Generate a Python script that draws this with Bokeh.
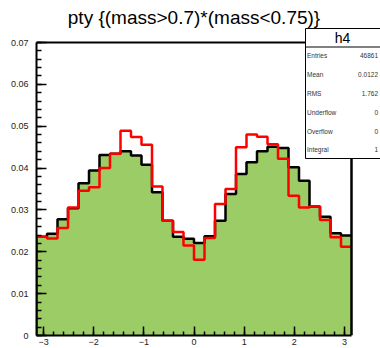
import numpy as np
from bokeh.plotting import figure
from bokeh.models import Range1d, FixedTicker, Label
from bokeh.embed import file_html
from bokeh.resources import INLINE

# ---- data ----
title_text = "pty {(mass>0.7)*(mass<0.75)}"
hist_name = "h4"
n_bins = 30
black_vals = [0.0236, 0.0243, 0.0278, 0.0304, 0.0364, 0.0394, 0.0431, 0.0434, 0.0440, 0.0430,
              0.0408, 0.0342, 0.0274, 0.0236, 0.0231, 0.0221, 0.0237, 0.0274, 0.0338, 0.0386,
              0.0414, 0.0440, 0.0451, 0.0448, 0.0402, 0.0370, 0.0308, 0.0284, 0.0244, 0.0239]
red_vals = [0.0236, 0.0232, 0.0257, 0.0306, 0.0346, 0.0354, 0.0400, 0.0434, 0.0489, 0.0474,
            0.0456, 0.0356, 0.0274, 0.0247, 0.0215, 0.0181, 0.0233, 0.0314, 0.0350, 0.0450,
            0.0480, 0.0475, 0.0457, 0.0422, 0.0334, 0.0306, 0.0308, 0.0276, 0.0235, 0.0212]
stat_names = ["Entries", "Mean", "RMS", "Underflow", "Overflow", "Integral"]
stat_values = ["46861", "0.0122", "1.762", "0", "0", "1"]
x_tick_vals = [-3, -2, -1, 0, 1, 2, 3]
x_tick_labels = ["-3", "-2", "-1", "0", "1", "2", "3"]
y_tick_vals = [0, 0.01, 0.02, 0.03, 0.04, 0.05, 0.06, 0.07]
y_tick_labels = ["0", "0.01", "0.02", "0.03", "0.04", "0.05", "0.06", "0.07"]

XMIN, XMAX = -np.pi, np.pi
YMIN, YMAX = 0.0, 0.07
edges = np.linspace(XMIN, XMAX, n_bins + 1)

# pixel geometry of the ROOT frame inside the 380x348 canvas
W, H = 380, 348
F_LEFT, F_RIGHT, F_TOP, F_BOTTOM = 36, 351, 42, 335
XS = (F_RIGHT - F_LEFT) / (XMAX - XMIN)   # px per x unit
YS = (F_BOTTOM - F_TOP) / (YMAX - YMIN)   # px per y unit


def X(px):
    return XMIN + (px - F_LEFT) / XS


def Y(py):
    return (F_BOTTOM - py) / YS


def step_path(vals, close_right):
    xs = [edges[0]]
    ys = [0.0]
    for i, v in enumerate(vals):
        xs += [edges[i], edges[i + 1]]
        ys += [v, v]
    if close_right:
        xs.append(edges[-1])
        ys.append(0.0)
    return xs, ys


FONT = "Liberation Sans"

# the bokeh frame spans to the canvas top/right so the title and stats box are not clipped
p = figure(width=W, height=H, output_backend="svg", toolbar_location=None, title=None,
           x_range=Range1d(XMIN, X(W)), y_range=Range1d(YMIN, Y(0)),
           min_border_left=F_LEFT, min_border_right=0, min_border_top=0,
           min_border_bottom=H - F_BOTTOM)
p.xgrid.visible = False
p.ygrid.visible = False
p.background_fill_color = "white"
p.border_fill_color = "white"
p.outline_line_color = None

fx, fy = step_path(black_vals, True)
bx, by = step_path(black_vals, False)
rx, ry = step_path(red_vals, False)
p.patch(fx, fy, fill_color="#9bcc66", line_color=None)
p.line(bx, by, line_color="black", line_width=2.5)
p.line(rx, ry, line_color="red", line_width=2.5)

# axes
p.xaxis.ticker = FixedTicker(ticks=x_tick_vals, minor_ticks=list(np.round(np.arange(-3.0, 3.01, 0.2), 3)))
p.xaxis.major_label_overrides = {str(t): l for t, l in zip(x_tick_vals, x_tick_labels)}
p.yaxis.ticker = FixedTicker(ticks=y_tick_vals, minor_ticks=list(np.round(np.arange(0, 0.0701, 0.002), 4)))
p.yaxis.major_label_overrides = {str(t): l for t, l in zip(y_tick_vals, y_tick_labels)}
p.xaxis.bounds = (XMIN, XMAX)
p.yaxis.bounds = (YMIN, YMAX)
for ax in (p.xaxis[0], p.yaxis[0]):
    ax.axis_line_color = "black"
    ax.axis_line_width = 2
    ax.major_tick_out = 0
    ax.minor_tick_out = 0
    ax.major_tick_line_width = 1.5
    ax.minor_tick_line_width = 1.5
    ax.major_label_text_font = FONT
    ax.major_label_text_font_size = "9px"
    ax.major_label_text_color = "#222222"
p.xaxis.major_tick_in = 9
p.xaxis.minor_tick_in = 4
p.xaxis.major_label_standoff = 3
p.yaxis.major_tick_in = 10
p.yaxis.minor_tick_in = 5
p.yaxis.major_label_standoff = 8

# stats box geometry (pixels)
B_L, B_R, B_T, B_B, B_DIV = 305, 382, 28, 158, 46.5

# top and right frame lines
p.segment(x0=[XMIN], y0=[YMAX], x1=[X(B_L)], y1=[YMAX], line_color="black", line_width=2)
p.segment(x0=[XMAX], y0=[YMIN], x1=[XMAX], y1=[Y(B_B)], line_color="black", line_width=2.5)

# title
p.add_layout(Label(x=X((F_LEFT + F_RIGHT) / 2), y=Y(16.5), text=title_text, text_align="center",
                   text_baseline="alphabetic", text_font=FONT, text_font_size="19px", text_color="black"))

# stats box
p.quad(left=[X(B_L)], right=[X(B_R)], top=[Y(B_T)], bottom=[Y(B_B)],
       fill_color="white", line_color="black", line_width=1)
p.segment(x0=[X(B_L)], y0=[Y(B_DIV)], x1=[X(B_R)], y1=[Y(B_DIV)], line_color="black", line_width=1)
p.add_layout(Label(x=X(342), y=Y(37.5), text=hist_name, text_align="center", text_baseline="middle",
                   text_font=FONT, text_font_size="14px", text_color="black"))
row_px = [55, 73.8, 93, 112, 131, 148.5]
for name, val, ypx in zip(stat_names, stat_values, row_px):
    p.add_layout(Label(x=X(306.5), y=Y(ypx), text=name, text_align="left", text_baseline="middle",
                       text_font=FONT, text_font_size="6.5px", text_color="#333333"))
    p.add_layout(Label(x=X(377.5), y=Y(ypx), text=val, text_align="right", text_baseline="middle",
                       text_font=FONT, text_font_size="6.5px", text_color="#333333"))

open("out.html", "w").write(file_html(p, INLINE))
